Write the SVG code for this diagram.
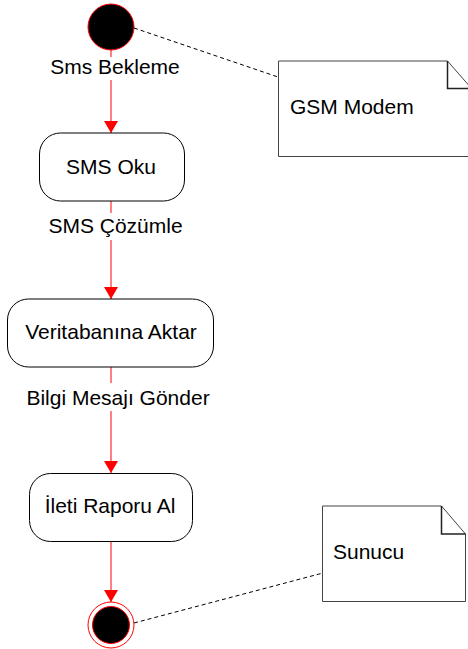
<svg xmlns="http://www.w3.org/2000/svg" width="468" height="649" viewBox="0 0 468 649">
  <style>
    text { font-family: "Liberation Sans", Arial, sans-serif; font-size: 21px; fill: #000; }
    .mid { text-anchor: middle; }
    .state { fill: #fff; stroke: #000; stroke-width: 1; }
    .flow { fill: none; stroke: #ff0000; stroke-width: 1; }
    .anchor { fill: none; stroke: #000; stroke-width: 1; stroke-dasharray: 4 3; }
    .note { fill: #fff; stroke: #444; stroke-width: 1; }
    .fold { fill: none; stroke: #222; stroke-width: 1.5; }
  </style>
  <defs>
    <marker id="arrow" markerUnits="userSpaceOnUse" markerWidth="12" markerHeight="14" refX="12" refY="7" orient="auto">
      <path d="M0,0 L12,7 L0,14 Z" fill="#ff0000"/>
    </marker>
  </defs>

  <rect width="468" height="649" fill="#fff"/>

  <!-- connectors: control flow (red) and note anchors (dashed) -->
  <g id="connectors">
    <path class="flow" d="M111,50 L111,57"/>
    <path class="flow" d="M111,80 L111,133" marker-end="url(#arrow)"/>
    <path class="flow" d="M111,201 L111,213"/>
    <path class="flow" d="M111,240 L111,299" marker-end="url(#arrow)"/>
    <path class="flow" d="M111,367 L111,383"/>
    <path class="flow" d="M111,411 L111,473" marker-end="url(#arrow)"/>
    <path class="flow" d="M111,542 L111,602" marker-end="url(#arrow)"/>
    <path class="anchor" d="M134,28 L278,77"/>
    <path class="anchor" d="M134,623 L323,573"/>
  </g>

  <!-- transition labels -->
  <g id="labels">
    <text class="mid" x="115" y="74">Sms Bekleme</text>
    <text class="mid" x="115.5" y="233">SMS Çözümle</text>
    <text class="mid" x="118" y="405">Bilgi Mesajı Gönder</text>
  </g>

  <g id="start">
    <circle cx="111" cy="27" r="23" fill="#000" stroke="#ff0000" stroke-width="1"/>
  </g>

  <g id="sms-oku">
    <rect class="state" x="39.5" y="133" width="145" height="68" rx="21"/>
    <text class="mid" x="111" y="174">SMS Oku</text>
  </g>

  <g id="veritabanina-aktar">
    <rect class="state" x="7.5" y="299" width="206" height="68" rx="21"/>
    <text class="mid" x="111" y="339">Veritabanına Aktar</text>
  </g>

  <g id="ileti-raporu-al">
    <rect class="state" x="29.5" y="473.5" width="163" height="68" rx="21"/>
    <text class="mid" x="110" y="513">İleti Raporu Al</text>
  </g>

  <g id="end">
    <circle cx="111" cy="625" r="23" fill="#fff" stroke="#ff0000" stroke-width="1"/>
    <circle cx="111" cy="625" r="18.5" fill="#000" stroke="#ff0000" stroke-width="1"/>
  </g>

  <g id="note-gsm-modem">
    <path class="note" d="M278.5,61 L447.5,61 L472,89 L472,156.5 L278.5,156.5 Z"/>
    <path class="fold" d="M447.5,61 L447.5,88.5 L472,88.5"/>
    <text x="290" y="114">GSM Modem</text>
  </g>

  <g id="note-sunucu">
    <path class="note" d="M322.5,506 L441.5,506 L465.5,534 L465.5,601.5 L322.5,601.5 Z"/>
    <path class="fold" d="M441.5,506 L441.5,534 L465.5,534"/>
    <text x="333" y="559">Sunucu</text>
  </g>
</svg>
